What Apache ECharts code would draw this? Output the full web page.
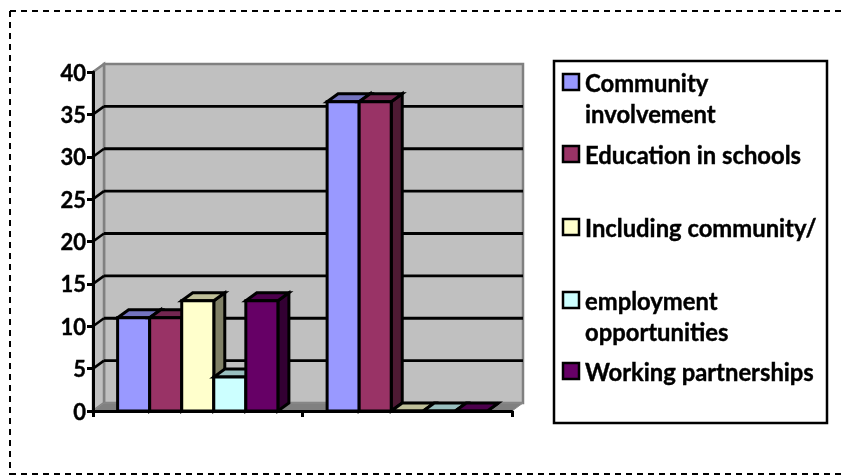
<!DOCTYPE html>
<html><head><meta charset="utf-8">
<style>html,body{margin:0;padding:0;background:#fff}#c{width:845px;height:475px}</style>
<script src="https://cdn.jsdelivr.net/npm/echarts@6/dist/echarts.min.js"></script>
</head><body><div id="c"></div>
<script>
const categories = ['Group 1', 'Group 2'];
const yTicks = [0, 5, 10, 15, 20, 25, 30, 35, 40];
const communityInvolvement = [11, 36.5];
const educationInSchools = [11, 36.5];
const includingCommunity = [13, 0];
const employmentOpportunities = [4, 0];
const workingPartnerships = [13, 0];
const seriesNames = ['Community involvement', 'Education in schools', 'Including community/', 'employment opportunities', 'Working partnerships'];
const seriesValues = [communityInvolvement, educationInSchools, includingCommunity, employmentOpportunities, workingPartnerships];
const frontColors = ['#9999FF', '#993366', '#FFFFCC', '#CCFFFF', '#660066'];
const topColors = ['#7373BF', '#732650', '#BFBF99', '#99BFBF', '#4C004C'];
const sideColors = ['#4C4C80', '#4D1A33', '#808066', '#668080', '#330033'];

const DX = 11, DY = 8, BAR_FRAC = 0.153;
const poly = (points, fill, stroke, lw) => ({
  type: 'polygon', shape: { points },
  style: { fill, stroke: stroke || null, lineWidth: lw || 0, lineJoin: 'miter' }
});
const seg = (a, b, stroke, lw) => ({
  type: 'line', shape: { x1: a[0], y1: a[1], x2: b[0], y2: b[1] },
  style: { stroke, lineWidth: lw }
});

function renderWalls(params, api) {
  const band = api.size([1, 0])[0];
  const b0 = api.coord([0, 0]), t0 = api.coord([0, 40]);
  const xl = b0[0] - band / 2, xr = xl + band * categories.length;
  const yb = b0[1], yt = t0[1];
  return { type: 'group', children: [
    poly([[xl + DX, yt - DY], [xr + DX, yt - DY], [xr + DX, yb - DY], [xl + DX, yb - DY]], '#C0C0C0', '#808080', 2.5),
    poly([[xl, yt], [xl + DX, yt - DY], [xl + DX, yb - DY], [xl, yb]], '#C0C0C0', '#808080', 2.5),
    poly([[xl, yb], [xl + DX, yb - DY], [xr + DX, yb - DY], [xr, yb]], '#808080', '#8C8C8C', 1)
  ]};
}
function renderGrid(params, api) {
  const band = api.size([1, 0])[0];
  const p = api.coord([0, api.value(1)]);
  const xl = p[0] - band / 2, xr = xl + band * categories.length;
  return { type: 'group', children: [
    seg([xl, p[1]], [xl + DX, p[1] - DY], '#000', 2.5),
    seg([xl + DX, p[1] - DY], [xr + DX, p[1] - DY], '#000', 2.8)
  ]};
}
function renderBar(params, api) {
  const i = params.seriesIndex - 2;
  const band = api.size([1, 0])[0], w = band * BAR_FRAC;
  const top = api.coord([api.value(0), api.value(1)]);
  const base = api.coord([api.value(0), 0]);
  const x0 = top[0] + (i - 2.5) * w, x1 = x0 + w;
  const yt = top[1], yb = base[1];
  const k = '#000', lw = 3;
  return { type: 'group', children: [
    poly([[x1, yt], [x1 + DX, yt - DY], [x1 + DX, yb - DY], [x1, yb]], sideColors[i], k, lw),
    poly([[x0, yt], [x0 + DX, yt - DY], [x1 + DX, yt - DY], [x1, yt]], topColors[i], k, lw),
    poly([[x0, yt], [x1, yt], [x1, yb], [x0, yb]], frontColors[i], k, lw)
  ]};
}

// legend drawn as graphic text so entries can wrap like the reference
const legendRows = [
  { color: 0, lines: [[ 'Community', 84 ], [ 'involvement', 115 ]] },
  { color: 1, lines: [[ 'Education in schools', 156 ]] },
  { color: 2, lines: [[ 'Including community/', 229 ]] },
  { color: 3, lines: [[ 'employment', 302 ], [ 'opportunities', 333 ]] },
  { color: 4, lines: [[ 'Working partnerships', 373 ]] }
];
const legendGfx = [{
  type: 'rect', shape: { x: 554, y: 61, width: 273, height: 362 },
  style: { fill: '#fff', stroke: '#000', lineWidth: 2.5 }, z: 10
}];
legendRows.forEach(r => {
  legendGfx.push({
    type: 'rect', shape: { x: 563, y: r.lines[0][1] - 10, width: 16, height: 16 },
    style: { fill: frontColors[r.color], stroke: '#000', lineWidth: 2.5 }, z: 11
  });
  r.lines.forEach(l => legendGfx.push({
    type: 'text', x: 585, y: l[1],
    style: { text: l[0], fill: '#000', stroke: '#000', lineWidth: 0.4, font: 'bold 23.8px Lato', textVerticalAlign: 'middle', textAlign: 'left' }, z: 11
  }));
});
const dash = [6, 5];
const frameGfx = [
  { type: 'line', shape: { x1: 10, y1: 11, x2: 845, y2: 11 }, style: { stroke: '#000', lineWidth: 2, lineDash: dash } },
  { type: 'line', shape: { x1: 10, y1: 11, x2: 10, y2: 475 }, style: { stroke: '#000', lineWidth: 2, lineDash: dash } },
  { type: 'line', shape: { x1: 10, y1: 474, x2: 845, y2: 474 }, style: { stroke: '#000', lineWidth: 2, lineDash: dash } }
];

const chart = echarts.init(document.getElementById('c'), null, { renderer: 'canvas' });
chart.setOption({
  animation: false,
  backgroundColor: '#fff',
  grid: { left: 93, top: 72, width: 419, height: 339, containLabel: false },
  xAxis: {
    type: 'category', data: categories, z: 5,
    axisLine: { lineStyle: { color: '#000', width: 3 } },
    axisTick: { show: true, length: 6, alignWithLabel: false, lineStyle: { color: '#000', width: 3 } },
    axisLabel: { show: false }, splitLine: { show: false }
  },
  yAxis: {
    type: 'value', min: 0, max: 40, interval: 5, z: 5,
    axisLine: { show: true, lineStyle: { color: '#000', width: 3 } },
    axisTick: { show: true, length: 6, lineStyle: { color: '#000', width: 3 } },
    axisLabel: { color: '#000', fontFamily: 'Lato', fontWeight: 'bold', fontSize: 22, margin: 7, textBorderColor: '#000', textBorderWidth: 0.4, verticalAlign: 'top', lineHeight: 3 },
    splitLine: { show: false }
  },
  graphic: [...frameGfx, ...legendGfx],
  series: [
    { type: 'custom', name: 'walls', silent: true, z: 1, renderItem: renderWalls, data: [[0, 0]] },
    { type: 'custom', name: 'grid', silent: true, z: 2, renderItem: renderGrid,
      data: yTicks.filter(v => v > 0 && v < 40).map(v => [0, v]) },
    ...seriesNames.map((name, s) => ({
      type: 'custom', name, z: 3 + s, silent: true, renderItem: renderBar,
      encode: { x: 0, y: 1 },
      data: seriesValues[s].map((v, c) => [c, v])
    }))
  ]
});
</script></body></html>
